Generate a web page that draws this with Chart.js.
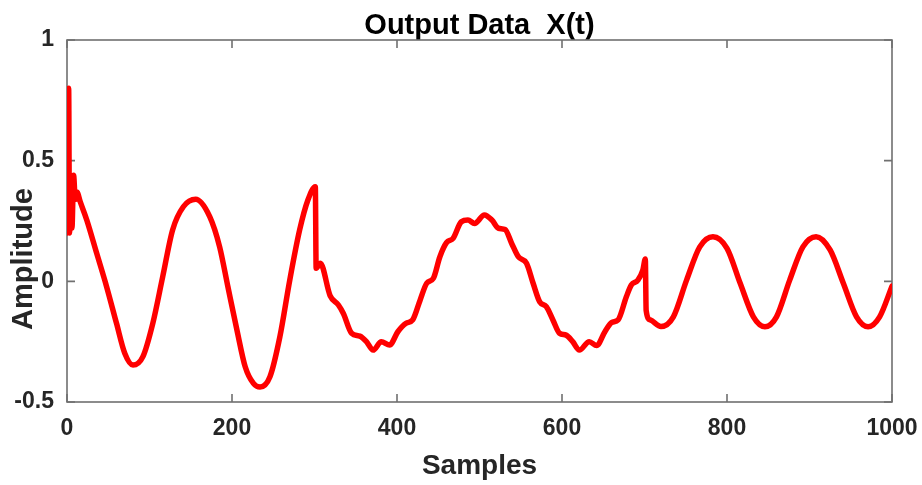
<!DOCTYPE html>
<html>
<head>
<meta charset="utf-8">
<style>
  html, body { margin: 0; padding: 0; background: #ffffff; }
  #c { display: block; }
</style>
<script src="https://cdn.jsdelivr.net/npm/chart.js@4/dist/chart.umd.min.js"></script>
</head>
<body>
<canvas id="c" width="922" height="485"></canvas>
<script>
// ---- data ----
const samples = [
  0, 2, 3, 5, 6, 8, 10, 12, 16, 24, 36, 48, 60, 70, 80, 92, 104, 116, 128, 141,
  156, 173, 185, 195, 206, 216, 226, 234, 246, 258, 270, 282, 292, 301, 302, 307,
  319, 329, 335, 345, 355, 363, 371, 381, 391, 401, 411, 419, 428, 436, 444, 452,
  460, 468, 478, 486, 494, 506, 515, 523, 531, 539, 547, 557, 565, 573, 581, 589,
  597, 605, 613, 621, 633, 642, 652, 660, 668, 678, 684, 692, 698, 701, 702, 707,
  720, 735, 751, 767, 783, 800, 816, 832, 846, 860, 876, 892, 908, 925, 941, 957,
  971, 985, 1000
];
const amplitude = [
  0.20, 0.80, 0.20, 0.42, 0.22, 0.44, 0.34, 0.37, 0.33, 0.254, 0.116, -0.022, -0.174, -0.298, -0.347, -0.312, -0.174, 0.019, 0.213, 0.309,
  0.340, 0.268, 0.143, -0.022, -0.202, -0.354, -0.423, -0.438, -0.395, -0.230, 0.005, 0.213, 0.337, 0.392, 0.054, 0.075,
  -0.060, -0.098, -0.133, -0.215, -0.227, -0.250, -0.285, -0.250, -0.264, -0.209, -0.174, -0.160, -0.078, -0.008, 0.012, 0.102,
  0.160, 0.178, 0.247, 0.254, 0.240, 0.275, 0.254, 0.220, 0.215, 0.157, 0.102, 0.075, -0.008, -0.085, -0.105, -0.160,
  -0.215, -0.223, -0.250, -0.285, -0.250, -0.266, -0.209, -0.171, -0.160, -0.064, -0.015, 0.005, 0.047, 0.093, -0.120, -0.160,
  -0.187, -0.147, 0.005, 0.143, 0.185, 0.137, -0.008, -0.147, -0.188, -0.147, 0.005, 0.143, 0.185, 0.130, -0.008, -0.147,
  -0.188, -0.147, -0.020
];
const xTickValues = [0, 200, 400, 600, 800, 1000];
const yTickValues = [-0.5, 0, 0.5, 1];
const titleText = 'Output Data  X(t)';
const xLabel = 'Samples';
const yLabel = 'Amplitude';

// ---- chart ----
const FONT = "'Liberation Sans', Arial, Helvetica, sans-serif";
const TEXT = '#262626';
const AXIS = '#707070';

const boxPlugin = {
  id: 'boxAxes',
  beforeDatasetsDraw(chart) {
    const { ctx, chartArea: a, scales: { x, y } } = chart;
    ctx.save();
    ctx.strokeStyle = AXIS;
    ctx.lineWidth = 1.6;
    ctx.strokeRect(a.left, a.top, a.right - a.left, a.bottom - a.top);
    const tl = 8;
    ctx.beginPath();
    xTickValues.forEach(v => {
      const px = x.getPixelForValue(v);
      ctx.moveTo(px, a.bottom); ctx.lineTo(px, a.bottom - tl);
      ctx.moveTo(px, a.top); ctx.lineTo(px, a.top + tl);
    });
    yTickValues.forEach(v => {
      const py = y.getPixelForValue(v);
      ctx.moveTo(a.left, py); ctx.lineTo(a.left + tl, py);
      ctx.moveTo(a.right, py); ctx.lineTo(a.right - tl, py);
    });
    ctx.stroke();
    ctx.restore();
  },
  afterDraw(chart) {
    const { ctx } = chart;
    ctx.save();
    ctx.fillStyle = TEXT;
    ctx.font = "bold 29px " + FONT;
    ctx.textAlign = 'center';
    ctx.textBaseline = 'middle';
    ctx.translate(24, 259);
    ctx.rotate(-Math.PI / 2);
    ctx.fillText(yLabel, 0, 0);
    ctx.restore();
  }
};

new Chart(document.getElementById('c'), {
  type: 'line',
  data: {
    datasets: [{
      data: samples.map((s, i) => ({ x: s, y: amplitude[i] })),
      borderColor: '#ff0000',
      borderWidth: 5.5,
      pointRadius: 0,
      fill: false,
      cubicInterpolationMode: 'monotone',
      borderJoinStyle: 'round',
      borderCapStyle: 'round'
    }]
  },
  options: {
    responsive: false,
    animation: false,
    devicePixelRatio: 1,
    layout: { padding: { left: 0, right: 30, top: 0, bottom: 0 } },
    plugins: {
      legend: { display: false },
      tooltip: { enabled: false },
      title: {
        display: true,
        text: titleText,
        fullSize: false,
        color: '#000000',
        font: { family: FONT, size: 29, weight: 'bold', lineHeight: 1.0 },
        padding: { top: 11, bottom: 0 }
      }
    },
    scales: {
      x: {
        type: 'linear',
        min: 0,
        max: 1000,
        afterFit: s => { s.height = 83; s.paddingLeft = 0; s.paddingRight = 0; },
        afterBuildTicks: s => { s.ticks = xTickValues.map(v => ({ value: v })); },
        grid: { display: false, drawTicks: false },
        border: { display: false },
        ticks: {
          padding: 13,
          color: TEXT,
          maxRotation: 0,
          autoSkip: false,
          callback: v => String(v),
          font: { family: FONT, size: 23, weight: 'bold' }
        },
        title: {
          display: true,
          text: xLabel,
          color: TEXT,
          font: { family: FONT, size: 28, weight: 'bold', lineHeight: 1.0 },
          padding: { top: 0, bottom: 5 }
        }
      },
      y: {
        type: 'linear',
        min: -0.5,
        max: 1,
        afterFit: s => { s.width = 67; s.paddingTop = 0; s.paddingBottom = 0; },
        afterBuildTicks: s => { s.ticks = yTickValues.map(v => ({ value: v })); },
        grid: { display: false, drawTicks: false },
        border: { display: false },
        ticks: {
          padding: 13,
          color: TEXT,
          autoSkip: false,
          callback: v => String(v),
          font: { family: FONT, size: 23, weight: 'bold' }
        }
      }
    }
  },
  plugins: [boxPlugin]
});
</script>
</body>
</html>
